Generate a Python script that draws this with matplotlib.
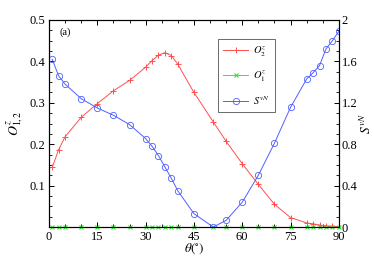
import numpy as np
import matplotlib
matplotlib.use('Agg')
import matplotlib.pyplot as plt
from matplotlib.ticker import MultipleLocator, FixedLocator

plt.rcParams['font.family'] = ['Liberation Serif', 'DejaVu Serif']
plt.rcParams['mathtext.fontset'] = 'stix'

# data
theta = [1, 3, 5, 10, 15, 20, 25, 30, 32, 34, 36, 38, 40, 45, 51, 55,
         60, 65, 70, 75, 80, 82, 84, 86, 88, 90]
o2 = [0.144, 0.187, 0.218, 0.265, 0.298, 0.329, 0.354, 0.386, 0.402, 0.415,
      0.421, 0.414, 0.393, 0.325, 0.254, 0.207, 0.153, 0.103, 0.055, 0.023,
      0.010, 0.008, 0.005, 0.003, 0.002, 0.001]
o1 = [0.0] * len(theta)
svn = [1.62, 1.46, 1.38, 1.24, 1.15, 1.08, 0.99, 0.855, 0.78, 0.69, 0.58,
       0.47, 0.35, 0.13, 0.0, 0.065, 0.24, 0.50, 0.81, 1.156, 1.43, 1.49,
       1.56, 1.72, 1.80, 1.89]

red = '#ff5050'
green = '#40e040'
blue = '#5060ff'

fig = plt.figure(figsize=(3.74, 2.56), dpi=100)
ax = fig.add_axes([0.131, 0.113, 0.775, 0.809])
ax2 = ax.twinx()

l1, = ax.plot(theta, o2, color=red, lw=0.7, marker='+', ms=5, mew=0.7,
              label=r'$O_2^z$')
l2, = ax.plot(theta, o1, color=green, lw=0.7, marker='x', ms=3.5, mew=0.8,
              label=r'$O_1^z$', clip_on=False, zorder=5)
l3, = ax2.plot(theta, svn, color=blue, lw=0.7, marker='o', ms=4.5, mew=0.6,
               mfc='none', label=r'$S^{vN}$')

ax.set_xlim(0, 90)
ax.set_ylim(0, 0.5)
ax2.set_ylim(0, 2)
ax.xaxis.set_major_locator(MultipleLocator(15))
ax.xaxis.set_minor_locator(MultipleLocator(5))
ax.yaxis.set_major_locator(FixedLocator([0.1, 0.2, 0.3, 0.4, 0.5]))
ax.yaxis.set_minor_locator(MultipleLocator(0.025))
ax2.yaxis.set_minor_locator(MultipleLocator(0.1))
ax2.set_yticks([0, 0.4, 0.8, 1.2, 1.6, 2])
ax2.set_yticklabels(['0', '0.4', '0.8', '1.2', '1.6', '2'])

ax.tick_params(which='both', direction='in', top=True, labelsize=9, pad=3)
ax.tick_params(which='major', length=3.5, width=0.7)
ax.tick_params(which='minor', length=2, width=0.6)
ax2.tick_params(which='both', direction='in', labelsize=9, pad=2)
ax2.tick_params(which='major', length=3.5, width=0.7)
ax2.tick_params(which='minor', length=2, width=0.6)
for a in (ax, ax2):
    for s in a.spines.values():
        s.set_linewidth(0.8)

ax.set_xlabel(r'$\theta(^{\circ})$', fontsize=9.5, labelpad=-1)
ax.set_ylabel(r'$O^z_{1,2}$', fontsize=10, labelpad=2)
ax2.set_ylabel(r'$S^{vN}$', fontsize=9.5, labelpad=1)
ax.text(0.035, 0.94, '(a)', transform=ax.transAxes, fontsize=7.5,
        ha='left', va='center')

leg = ax2.legend(handles=[l1, l2, l3], loc='upper left',
                 bbox_to_anchor=(0.582, 0.91), borderaxespad=0,
                 fontsize=7.5, frameon=True,
                 fancybox=False, edgecolor='#444444', handlelength=2.4,
                 labelspacing=0.95, borderpad=0.55, handletextpad=0.4)
leg.get_frame().set_linewidth(0.7)

fig.savefig('out.png', dpi=100)
